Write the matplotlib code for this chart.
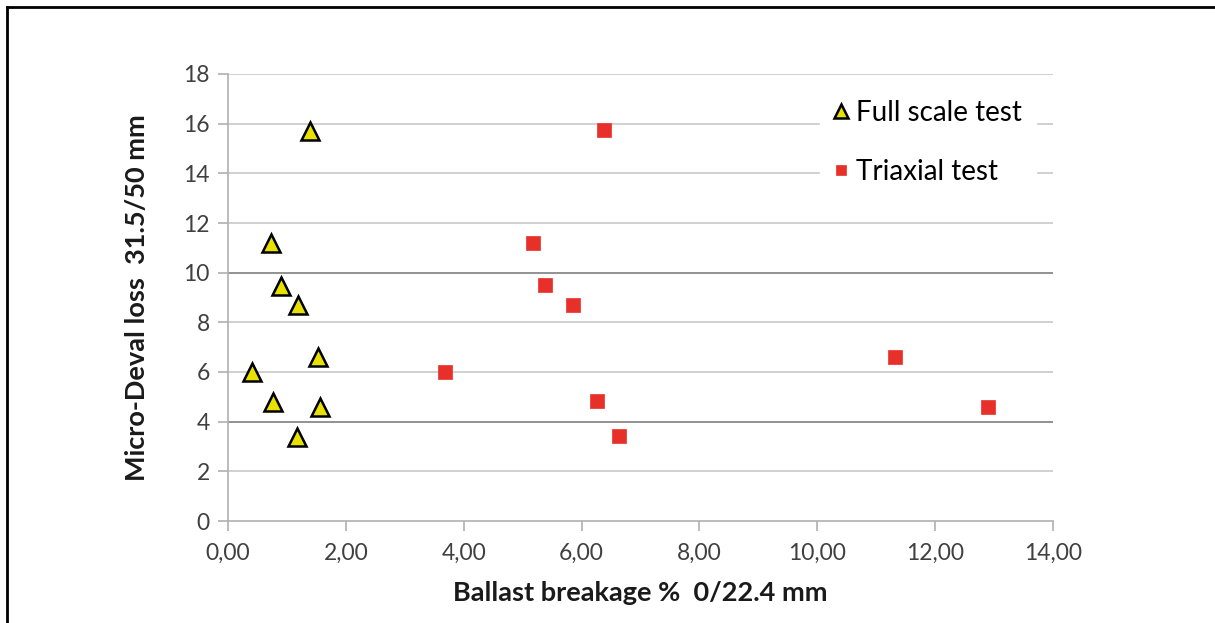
import matplotlib
matplotlib.use("Agg")
import matplotlib.pyplot as plt
from matplotlib.lines import Line2D

# Data
full_x = [1.39, 0.73, 0.90, 1.19, 1.53, 0.41, 0.76, 1.56, 1.17]
full_y = [15.7, 11.2, 9.46, 8.7, 6.6, 6.0, 4.8, 4.6, 3.4]
tri_x = [6.38, 5.18, 5.38, 5.86, 3.68, 6.26, 6.64, 11.32, 12.9]
tri_y = [15.75, 11.2, 9.5, 8.7, 6.0, 4.83, 3.42, 6.6, 4.6]
x_ticks = [0, 2, 4, 6, 8, 10, 12, 14]
x_tick_labels = ["0,00", "2,00", "4,00", "6,00", "8,00", "10,00", "12,00", "14,00"]
y_ticks = [0, 2, 4, 6, 8, 10, 12, 14, 16, 18]
dark_grid = [10, 4]

plt.rcParams['font.family'] = ['Lato', 'DejaVu Sans']

fig = plt.figure(figsize=(12.15, 6.23), dpi=100)
ax = fig.add_axes([228/1215, 1-521/623, (1053-228)/1215, (521-74)/623])

for y in y_ticks[1:]:
    ax.axhline(y, color='#7f7f7f' if y in dark_grid else '#c8c8c8', lw=1.2, zorder=0)

ax.plot(full_x, full_y, linestyle='none', marker='^', ms=13, mfc='#e8e000',
        mec='black', mew=1.8, label='Full scale test', zorder=3)
ax.plot(tri_x, tri_y, linestyle='none', marker='s', ms=10, mfc='#e8302a',
        mec='#e8302a', mew=0.5, label='Triaxial test', zorder=3)

ax.set_xlim(0, 14)
ax.set_ylim(0, 18)
ax.set_xticks(x_ticks)
ax.set_xticklabels(x_tick_labels)
ax.set_yticks(y_ticks)
for s in ['top', 'right']:
    ax.spines[s].set_visible(False)
for s in ['left', 'bottom']:
    ax.spines[s].set_color('#b0b0b0')
    ax.spines[s].set_linewidth(1.2)
ax.tick_params(axis='both', colors='#b0b0b0', labelcolor='#404040', labelsize=16.5,
               length=7, width=1.2)
ax.tick_params(axis='x', pad=9)
ax.tick_params(axis='y', pad=6)

ax.set_xlabel('Ballast breakage %  0/22.4 mm', fontsize=19.5, fontweight='bold',
              color='#1a1a1a', labelpad=12)
ax.set_ylabel('Micro-Deval loss  31.5/50 mm', fontsize=19.5, fontweight='bold',
              color='#1a1a1a', labelpad=25)

leg = ax.legend(loc='upper left', bbox_to_anchor=(806/1215, 1-72/623),
                bbox_transform=fig.transFigure, frameon=True, fontsize=20,
                handlelength=0.5, handletextpad=0.3, labelspacing=1.2,
                borderpad=0.5, markerscale=0.75)
leg.get_frame().set_edgecolor('white')
leg.get_frame().set_facecolor('white')
leg.get_frame().set_alpha(1)

# figure frame (top and left edges)
fig.add_artist(Line2D([7/1215, 1], [1-7/623, 1-7/623], transform=fig.transFigure,
                      color='black', lw=2))
fig.add_artist(Line2D([7/1215, 7/1215], [0, 1-7/623], transform=fig.transFigure,
                      color='black', lw=2))

fig.savefig('out.png', dpi=100)
